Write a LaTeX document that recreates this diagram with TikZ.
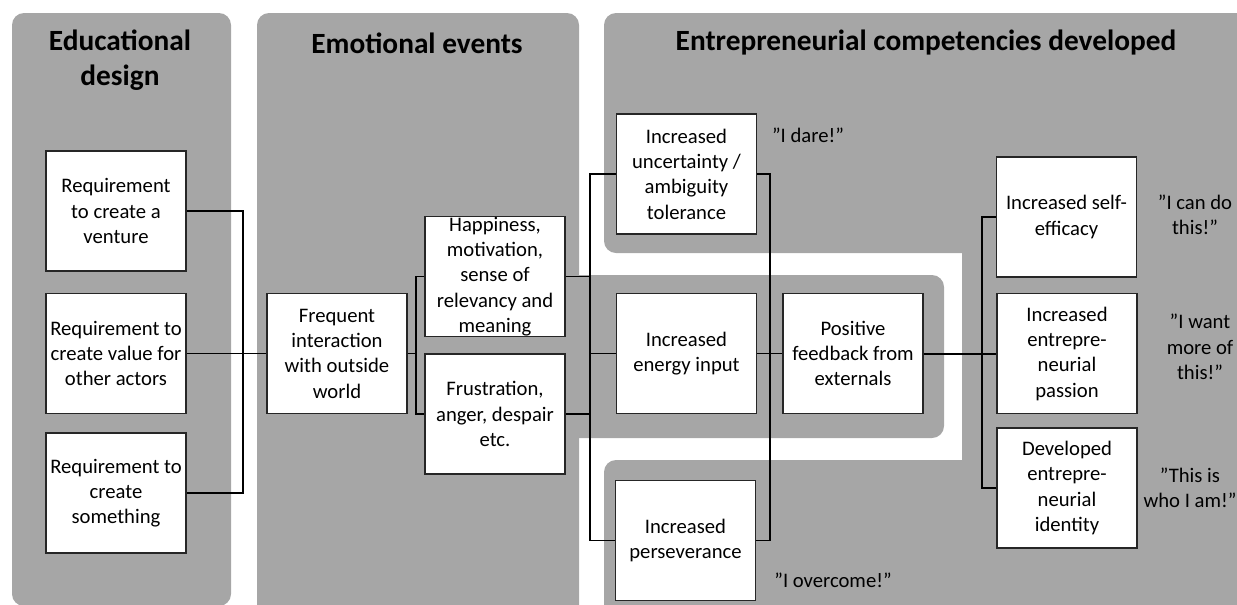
\documentclass[tikz,border=0pt]{standalone}
\usepackage{fontspec}
\setmainfont{Carlito}
\usepackage{xcolor}
\usepackage{tikz}
\definecolor{panelgray}{RGB}{166,166,166}

\begin{document}
\begin{tikzpicture}[x=0.75pt, y=-0.75pt,
    box/.style={draw=black!85, fill=white, line width=0.8pt, rectangle,
        minimum width=105pt, minimum height=90pt, inner sep=1pt, align=center,
        font=\fontsize{15.5}{19}\selectfont},
    quote/.style={align=center, font=\fontsize{15.5}{19}\selectfont},
    title/.style={align=center, font=\fontsize{22}{26}\selectfont\bfseries},
    panel/.style={fill=panelgray, rounded corners=9pt},
    link/.style={line width=0.8pt}]
    \clip (0,0) rectangle (1237,604);

    % panels
    \fill[panel] (12,13) rectangle (231,606);
    \fill[panel] (257,13) rectangle (579,630);
    \fill[panel] (560,275) rectangle (944,438);
    \fill[panel] (604,13) rectangle (1260,253);
    \fill[panel] (604,460) rectangle (1260,630);
    \fill[panelgray] (962,13) rectangle (1260,630);

    \node[title] (tdesign) at (120,60) {Educational\\design};
    \node[title] (tevents) at (417,43) {Emotional events};
    \node[title] (tcomp) at (926,43) {Entrepreneurial competencies developed};

    % educational design
    \node[box] (reqA) at (116,211) {Requirement\\to create a\\venture};
    \node[box] (reqB) at (116,353.5) {Requirement to\\create value for\\other actors};
    \node[box] (reqC) at (116,493) {Requirement to\\create\\something};

    % emotional events
    \node[box] (freq) at (337,353.5) {Frequent\\interaction\\with outside\\world};
    \node[box, inner ysep=0pt] (happy) at (495,276.5) {Happiness,\\motivation,\\sense of\\relevancy and\\meaning};
    \node[box] (frust) at (495,414) {Frustration,\\anger, despair\\etc.};

    % competencies
    \node[box] (uncert) at (686.5,174) {Increased\\uncertainty /\\ambiguity\\tolerance};
    \node[box] (energy) at (686.5,353.5) {Increased\\energy input};
    \node[box] (feedb) at (853,353.5) {Positive\\feedback from\\externals};
    \node[box] (persev) at (685.5,540.5) {Increased\\perseverance};
    \node[box] (selfeff) at (1066.5,217) {Increased self-\\efficacy};
    \node[box] (passion) at (1067,353.5) {Increased\\entrepre-\\neurial\\passion};
    \node[box] (identity) at (1067,488) {Developed\\entrepre-\\neurial\\identity};

    \node[quote] (qdare) at (808,135) {”I dare!”};
    \node[quote] (qcan) at (1195,215) {”I can do\\this!”};
    \node[quote] (qwant) at (1200,347) {”I want\\more of\\this!”};
    \node[quote] (qwho) at (1190,488) {”This is\\who I am!”};
    \node[quote] (qover) at (833,580) {”I overcome!”};

    % connectors
    \coordinate (jA) at (243,353.5);
    \coordinate (jE) at (416,353.5);
    \coordinate (jL) at (590,353.5);
    \coordinate (jR) at (770,353.5);
    \coordinate (jP) at (982,353.5);

    \draw[link] (reqA.east) -| (jA) |- (reqC.east);
    \draw[link] (reqB.east) -- (freq.west);
    \draw[link] (happy.west) -| (jE) |- (frust.west);
    \draw[link] (freq.east) -- (jE);
    \draw[link] (happy.east) -| (jL) |- (frust.east);
    \draw[link] (uncert.west) -| (jL) |- (persev.west);
    \draw[link] (jL) -- (energy.west);
    \draw[link] (uncert.east) -| (jR) |- (persev.east);
    \draw[link] (energy.east) -- (feedb.west);
    \draw[link] (selfeff.west) -| (jP) |- (identity.west);
    \draw[line width=1.5pt] (feedb.east) -- (passion.west);
\end{tikzpicture}
\end{document}
